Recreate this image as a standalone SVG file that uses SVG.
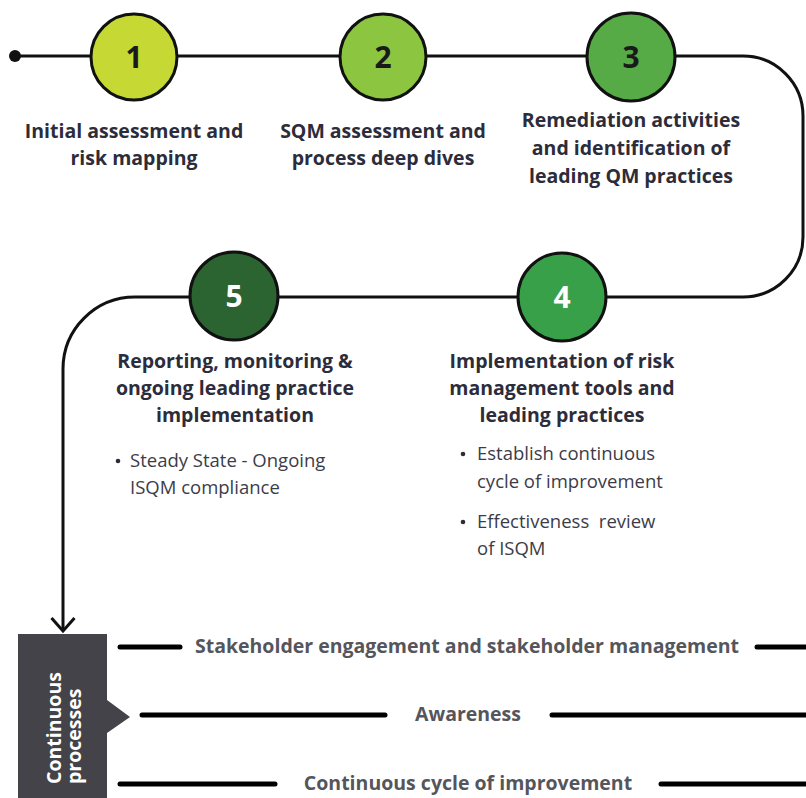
<svg xmlns="http://www.w3.org/2000/svg" width="806" height="798" viewBox="0 0 806 798">
  <style>
    .track { fill: none; stroke: #111; stroke-width: 3; }
    .step { stroke: #111; stroke-width: 3; }
    .num { font-family: "Open Sans", "Liberation Sans", sans-serif; font-weight: 700; font-size: 30px; text-anchor: middle; }
    .title { font-family: "Open Sans", "Liberation Sans", sans-serif; font-weight: 700; font-size: 19.5px; fill: #2c2c3a; text-anchor: middle; }
    .bullet { font-family: "Open Sans", "Liberation Sans", sans-serif; font-weight: 400; font-size: 18.5px; fill: #3c3c48; }
    .dot { fill: #2c2c3a; }
    .bar { stroke: #000; stroke-width: 5; stroke-linecap: round; }
    .proc { font-family: "Open Sans", "Liberation Sans", sans-serif; font-weight: 700; font-size: 19.5px; fill: #55555c; text-anchor: middle; }
    .vert { font-family: "Open Sans", "Liberation Sans", sans-serif; font-weight: 700; font-size: 19.5px; fill: #ffffff; }
  </style>
  <defs>
    <!-- open chevron arrowhead, drawn pointing along +x -->
    <marker id="arrow" markerWidth="17" markerHeight="26" refX="15" refY="13" orient="auto" markerUnits="userSpaceOnUse" viewBox="0 0 17 26">
      <path d="M2 1.5 L15 13 L2 24.5" fill="none" stroke="#111" stroke-width="3"/>
    </marker>
  </defs>
  <rect width="806" height="798" fill="#ffffff"/>

  <!-- connectors: the winding track through the five steps -->
  <g id="connectors">
    <circle cx="15" cy="56" r="6" fill="#111"/>
    <path class="track" d="M15 56 H743 A60 60 0 0 1 803 116 V237 A60 60 0 0 1 743 297 H135 A72 72 0 0 0 63 369 V631" marker-end="url(#arrow)"/>
  </g>

  <g id="step1">
    <circle class="step" cx="134" cy="57" r="43" fill="#c5d834"/>
    <text class="num" x="134" y="68" fill="#1a1a1a">1</text>
    <text class="title" x="134" y="138">Initial assessment and</text>
    <text class="title" x="134" y="165">risk mapping</text>
  </g>

  <g id="step2">
    <circle class="step" cx="383" cy="57" r="43" fill="#8cc540"/>
    <text class="num" x="383" y="68" fill="#1a1a1a">2</text>
    <text class="title" x="383" y="138">SQM assessment and</text>
    <text class="title" x="383" y="165">process deep dives</text>
  </g>

  <g id="step3">
    <circle class="step" cx="631" cy="57" r="44" fill="#56ab47"/>
    <text class="num" x="631" y="68" fill="#1a1a1a">3</text>
    <text class="title" x="631" y="127">Remediation activities</text>
    <text class="title" x="631" y="155">and identification of</text>
    <text class="title" x="631" y="183">leading QM practices</text>
  </g>

  <g id="step4">
    <circle class="step" cx="562" cy="297" r="44" fill="#38a048"/>
    <text class="num" x="562" y="308" fill="#ffffff">4</text>
    <text class="title" x="562" y="368">Implementation of risk</text>
    <text class="title" x="562" y="395">management tools and</text>
    <text class="title" x="562" y="422">leading practices</text>
    <circle class="dot" cx="463" cy="454" r="2.3"/>
    <text class="bullet" x="477" y="460">Establish continuous</text>
    <text class="bullet" x="477" y="488">cycle of improvement</text>
    <circle class="dot" cx="463" cy="522" r="2.3"/>
    <text class="bullet" x="477" y="528" xml:space="preserve">Effectiveness  review</text>
    <text class="bullet" x="477" y="555">of ISQM</text>
  </g>

  <g id="step5">
    <circle class="step" cx="234" cy="296" r="44" fill="#2b6430"/>
    <text class="num" x="234" y="307" fill="#ffffff">5</text>
    <text class="title" x="235" y="368">Reporting, monitoring &amp;</text>
    <text class="title" x="235" y="395">ongoing leading practice</text>
    <text class="title" x="235" y="422">implementation</text>
    <circle class="dot" cx="118" cy="461" r="2.3"/>
    <text class="bullet" x="130" y="467">Steady State - Ongoing</text>
    <text class="bullet" x="130" y="494">ISQM compliance</text>
  </g>

  <g id="continuous-processes">
    <path d="M18 634 H107 V700 L130 717 L107 733 V798 H18 Z" fill="#434349"/>
    <text class="vert" transform="translate(61 784) rotate(-90)">Continuous</text>
    <text class="vert" transform="translate(81 784) rotate(-90)">processes</text>
  </g>

  <g id="stakeholder">
    <line class="bar" x1="120" y1="647" x2="180" y2="647"/>
    <text class="proc" x="467" y="653">Stakeholder engagement and stakeholder management</text>
    <line class="bar" x1="757" y1="647" x2="810" y2="647"/>
  </g>

  <g id="awareness">
    <line class="bar" x1="142" y1="715" x2="385" y2="715"/>
    <text class="proc" x="468" y="721">Awareness</text>
    <line class="bar" x1="552" y1="715" x2="810" y2="715"/>
  </g>

  <g id="improvement">
    <line class="bar" x1="120" y1="784" x2="275" y2="784"/>
    <text class="proc" x="468" y="790">Continuous cycle of improvement</text>
    <line class="bar" x1="661" y1="784" x2="810" y2="784"/>
  </g>
</svg>
